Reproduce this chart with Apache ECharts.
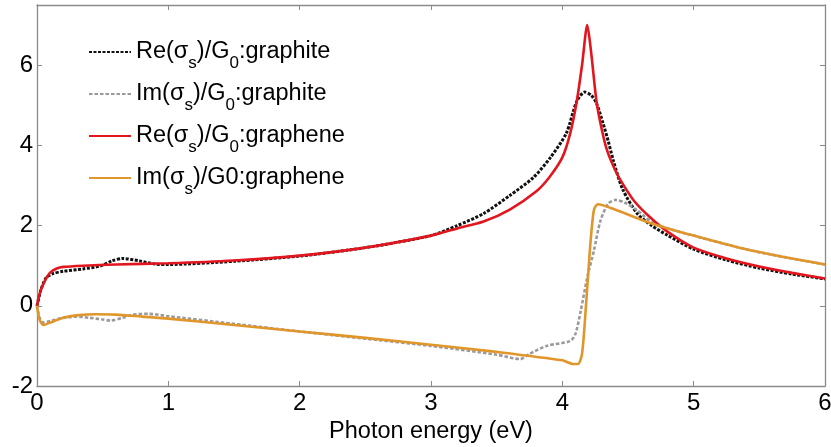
<!DOCTYPE html>
<html>
<head>
<meta charset="utf-8">
<script src="https://cdn.jsdelivr.net/npm/echarts@6/dist/echarts.min.js"></script>
<style>html,body{margin:0;padding:0;background:#fff}#c{width:831px;height:447px}</style>
</head>
<body>
<div id="c"></div>
<script>
// Re(sigma)/G0 graphite (black dotted)
const reGraphiteX = [0,0.03,0.07,0.12,0.2,0.35,0.48,0.57,0.65,0.78,0.9,1.0,1.5,2.0,2.5,3.0,3.2,3.4,3.6,3.78,3.91,4.03,4.11,4.17,4.22,4.26,4.31,4.35,4.39,4.46,4.57,4.68,4.8,5.0,5.25,5.5,5.75,6.0];
const reGraphiteY = [0,0.4,0.7,0.8,0.86,0.92,0.99,1.12,1.18,1.12,1.04,1.03,1.11,1.24,1.45,1.75,2.0,2.3,2.75,3.2,3.7,4.3,5.1,5.33,5.25,5.05,4.55,4.1,3.6,2.9,2.3,2.0,1.76,1.41,1.14,0.94,0.79,0.67];
// Im(sigma)/G0 graphite (gray dashed)
const imGraphiteX = [0,0.02,0.05,0.1,0.2,0.3,0.4,0.5,0.56,0.65,0.73,0.85,1.0,1.5,2.0,2.5,3.0,3.5,3.68,3.75,3.88,4.06,4.1,4.14,4.19,4.24,4.29,4.35,4.41,4.49,4.57,4.7,5.0,5.45,6.0];
const imGraphiteY = [0,-0.3,-0.42,-0.38,-0.3,-0.27,-0.3,-0.34,-0.37,-0.3,-0.22,-0.2,-0.26,-0.45,-0.64,-0.82,-1.0,-1.22,-1.33,-1.2,-1.0,-0.88,-0.7,-0.13,0.71,1.37,2.12,2.55,2.64,2.55,2.38,2.05,1.75,1.37,1.03];
// Re(sigma)/G0 graphene (red)
const reGrapheneX = [0,0.02,0.05,0.1,0.15,0.2,0.35,0.6,1.0,1.5,2.0,2.5,3.0,3.2,3.4,3.6,3.8,3.9,4.0,4.06,4.11,4.15,4.19,4.22,4.26,4.3,4.34,4.4,4.46,4.55,4.67,4.8,5.0,5.25,5.5,5.75,6.0];
const reGrapheneY = [0,0.3,0.56,0.83,0.93,0.97,1.0,1.03,1.06,1.13,1.25,1.45,1.75,1.93,2.1,2.4,2.85,3.2,3.7,4.3,5.1,6.0,7.0,6.3,5.1,4.4,3.88,3.4,3.04,2.6,2.2,1.85,1.45,1.18,0.98,0.82,0.68];
// Im(sigma)/G0 graphene (orange)
const imGrapheneX = [0,0.02,0.05,0.1,0.2,0.3,0.45,0.6,0.8,1.0,1.5,2.0,2.5,3.0,3.5,4.0,4.08,4.12,4.15,4.18,4.21,4.24,4.27,4.4,4.69,5.0,5.45,6.0];
const imGrapheneY = [0,-0.35,-0.48,-0.42,-0.3,-0.24,-0.21,-0.22,-0.27,-0.32,-0.48,-0.64,-0.8,-0.97,-1.15,-1.36,-1.45,-1.45,-1.2,0.0,1.4,2.38,2.53,2.4,2.04,1.75,1.37,1.03];

const seriesNames = ['Re(σs)/G0:graphite','Im(σs)/G0:graphite','Re(σs)/G0:graphene','Im(σs)/G0:graphene'];
const legendRich = {
  'Re(σs)/G0:graphite': '{n|Re(σ}{s|s}{n|)/G}{s|0}{n|:graphite}',
  'Im(σs)/G0:graphite': '{n|Im(σ}{s|s}{n|)/G}{s|0}{n|:graphite}',
  'Re(σs)/G0:graphene': '{n|Re(σ}{s|s}{n|)/G}{s|0}{n|:graphene}',
  'Im(σs)/G0:graphene': '{n|Im(σ}{s|s}{n|)/G0:graphene}'
};
const xTicks = { min: 0, max: 6, interval: 1 };
const yTicks = { min: -2, max: 7.5, interval: 2 };

function pairs(xs, ys) { return xs.map((x, i) => [x, ys[i]]); }

const axisColor = '#8a8a8a';
const font = 'Liberation Sans, Arial, sans-serif';
const chart = echarts.init(document.getElementById('c'), null, { renderer: 'canvas' });
const baseAxis = {
  type: 'value',
  axisLine: { show: true, onZero: false, lineStyle: { color: axisColor, width: 1.3 } },
  axisTick: { show: true, inside: true, length: 5, lineStyle: { color: axisColor } },
  splitLine: { show: false }
};
const SM = 0.25;
chart.setOption({
  animation: false,
  backgroundColor: '#fff',
  grid: { left: 37, right: 6, top: 5, bottom: 61, containLabel: false, outerBoundsMode: 'none' },
  legend: {
    orient: 'vertical', left: 88, top: 40, padding: 0,
    itemWidth: 42, itemHeight: 14, itemGap: 10,
    itemStyle: { opacity: 0 },
    data: seriesNames,
    formatter: n => legendRich[n],
    textStyle: {
      rich: {
        n: { fontFamily: font, fontSize: 23.5, color: '#000', lineHeight: 24, verticalAlign: 'top' },
        s: { fontFamily: font, fontSize: 17, color: '#000', lineHeight: 17, verticalAlign: 'top', padding: [15, 0, 0, 0] }
      }
    }
  },
  xAxis: [
    Object.assign({}, baseAxis, {
      min: xTicks.min, max: xTicks.max, interval: xTicks.interval, position: 'bottom',
      axisLabel: { fontFamily: font, fontSize: 24, color: '#000', margin: 5 },
      name: 'Photon energy (eV)', nameLocation: 'middle', nameGap: 31,
      nameTextStyle: { fontFamily: font, fontSize: 23.5, color: '#000' }
    }),
    Object.assign({}, baseAxis, {
      min: xTicks.min, max: xTicks.max, interval: xTicks.interval, position: 'top',
      axisLabel: { show: false }
    })
  ],
  yAxis: [
    Object.assign({}, baseAxis, {
      min: yTicks.min, max: yTicks.max, interval: yTicks.interval, position: 'left',
      axisLabel: { fontFamily: font, fontSize: 24, color: '#000', margin: 4, showMaxLabel: false }
    }),
    Object.assign({}, baseAxis, {
      min: yTicks.min, max: yTicks.max, interval: yTicks.interval, position: 'right',
      axisLabel: { show: false }
    })
  ],
  series: [
    { name: seriesNames[0], type: 'line', data: pairs(reGraphiteX, reGraphiteY), smooth: SM, showSymbol: false, symbol: 'none',
      lineStyle: { color: '#111', width: 3, type: [3, 1.5] }, itemStyle: { color: '#111' } },
    { name: seriesNames[1], type: 'line', data: pairs(imGraphiteX, imGraphiteY), smooth: SM, showSymbol: false, symbol: 'none',
      lineStyle: { color: '#9a9a9a', width: 2.6, type: [3.5, 2] }, itemStyle: { color: '#9a9a9a' } },
    { name: seriesNames[2], type: 'line', data: pairs(reGrapheneX, reGrapheneY), smooth: SM, showSymbol: false, symbol: 'none',
      lineStyle: { color: '#e2161f', width: 2.6 }, itemStyle: { color: '#e2161f' } },
    { name: seriesNames[3], type: 'line', data: pairs(imGrapheneX, imGrapheneY), smooth: SM, showSymbol: false, symbol: 'none',
      lineStyle: { color: '#e0962a', width: 2.6 }, itemStyle: { color: '#e0962a' } }
  ]
});
</script>
</body>
</html>
